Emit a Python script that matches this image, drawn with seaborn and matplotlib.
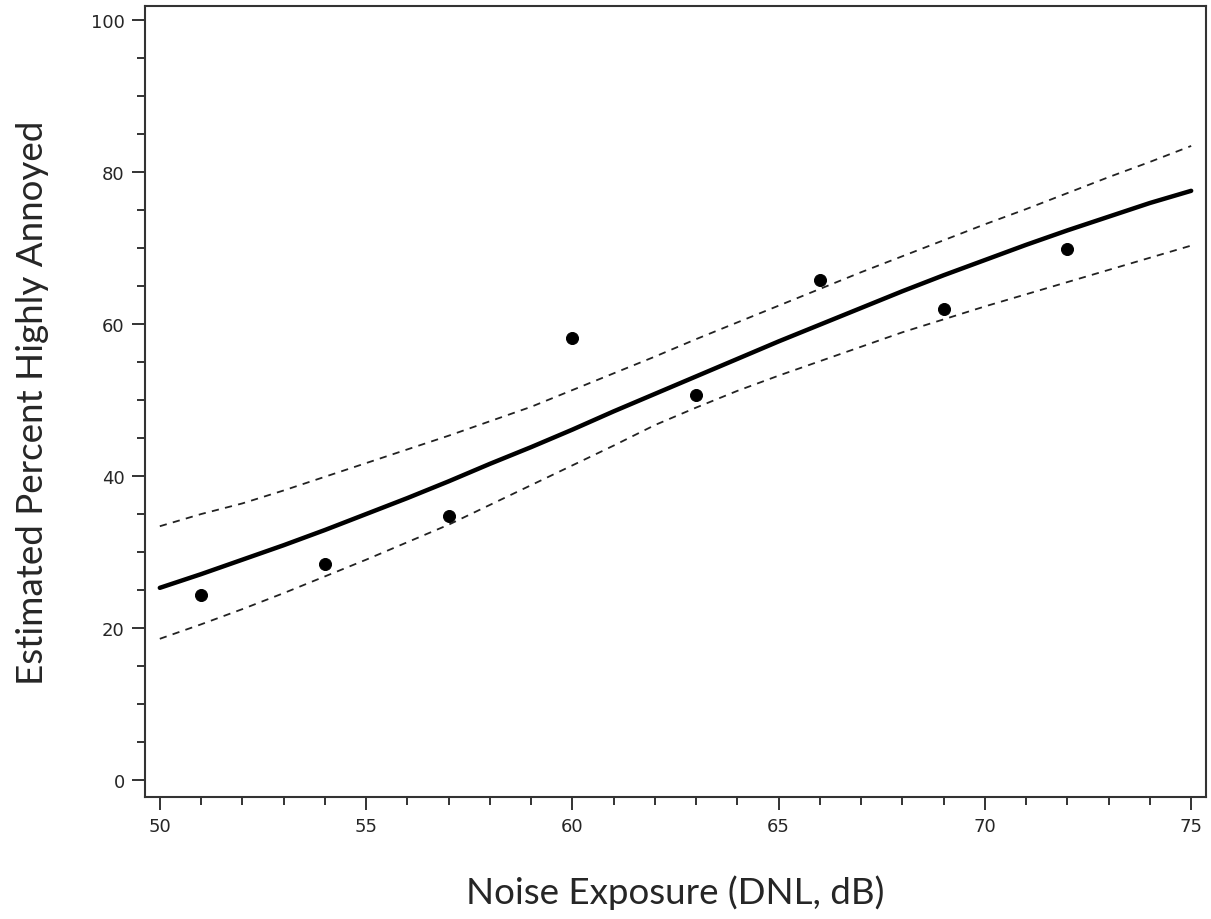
import numpy as np
import pandas as pd
import seaborn as sns
import matplotlib.pyplot as plt
from matplotlib.ticker import MultipleLocator

# observed points
obs_dnl = [51, 54, 57, 60, 63, 66, 69, 72]
obs_pct = [24.4, 28.5, 34.8, 58.1, 50.7, 65.8, 61.9, 69.8]

# fitted curve + confidence band at each dB
fit_dnl = list(range(50, 76))
fit_pct = [25.3, 27.1, 29.0, 30.9, 32.9, 35.0, 37.1, 39.3, 41.6, 43.8, 46.1, 48.5, 50.8,
           53.1, 55.4, 57.7, 59.9, 62.1, 64.3, 66.4, 68.4, 70.4, 72.3, 74.1, 75.9, 77.5]
upper = [33.4, 35.0, 36.4, 38.1, 39.9, 41.7, 43.5, 45.3, 47.2, 49.1, 51.3, 53.5, 55.7,
         58.0, 60.2, 62.4, 64.6, 66.8, 68.9, 71.0, 73.1, 75.1, 77.2, 79.3, 81.3, 83.4]
lower = [18.6, 20.5, 22.5, 24.6, 26.8, 29.0, 31.3, 33.6, 36.2, 38.8, 41.4, 44.0, 46.7,
         49.0, 51.2, 53.2, 55.1, 57.0, 58.9, 60.6, 62.3, 63.9, 65.5, 67.1, 68.7, 70.3]

obs = pd.DataFrame({'dnl': obs_dnl, 'pct': obs_pct})
fit = pd.DataFrame({'dnl': fit_dnl, 'pct': fit_pct, 'upper': upper, 'lower': lower})

sns.set_style('ticks')
plt.rcParams['font.family'] = ['DejaVu Sans']

fig = plt.figure(figsize=(12.11, 9.2), dpi=100)
ax = fig.add_axes([0.1197, 0.1326, 0.8762, 0.8598])

sns.lineplot(data=fit, x='dnl', y='pct', color='black', linewidth=3.2, ax=ax)
sns.lineplot(data=fit, x='dnl', y='upper', color='#222222', linewidth=1.3, ax=ax, dashes=False)
sns.lineplot(data=fit, x='dnl', y='lower', color='#222222', linewidth=1.3, ax=ax, dashes=False)
for ln in ax.lines[1:]:
    ln.set_linestyle((0, (4, 3.5)))
sns.scatterplot(data=obs, x='dnl', y='pct', color='black', s=75, edgecolor='black', zorder=5, ax=ax)

ax.set_xlim(49.64, 75.36)
ax.set_ylim(-2.2, 101.8)
ax.xaxis.set_major_locator(MultipleLocator(5))
ax.xaxis.set_minor_locator(MultipleLocator(1))
ax.yaxis.set_major_locator(MultipleLocator(20))
ax.yaxis.set_minor_locator(MultipleLocator(5))
ax.tick_params(which='major', length=9.5, width=1.4, color='#333333', labelsize=13, pad=5)
ax.tick_params(which='minor', length=5.5, width=1.4, color='#333333')
for sp in ax.spines.values():
    sp.set_linewidth(1.5)
    sp.set_color('#333333')

ax.set_xlabel('Noise Exposure (DNL, dB)', fontsize=26.5, family=['Lato', 'DejaVu Sans'], labelpad=28)
ax.set_ylabel('Estimated Percent Highly Annoyed', fontsize=26.5, family=['Lato', 'DejaVu Sans'], labelpad=30)

fig.savefig('out.png', dpi=100)
